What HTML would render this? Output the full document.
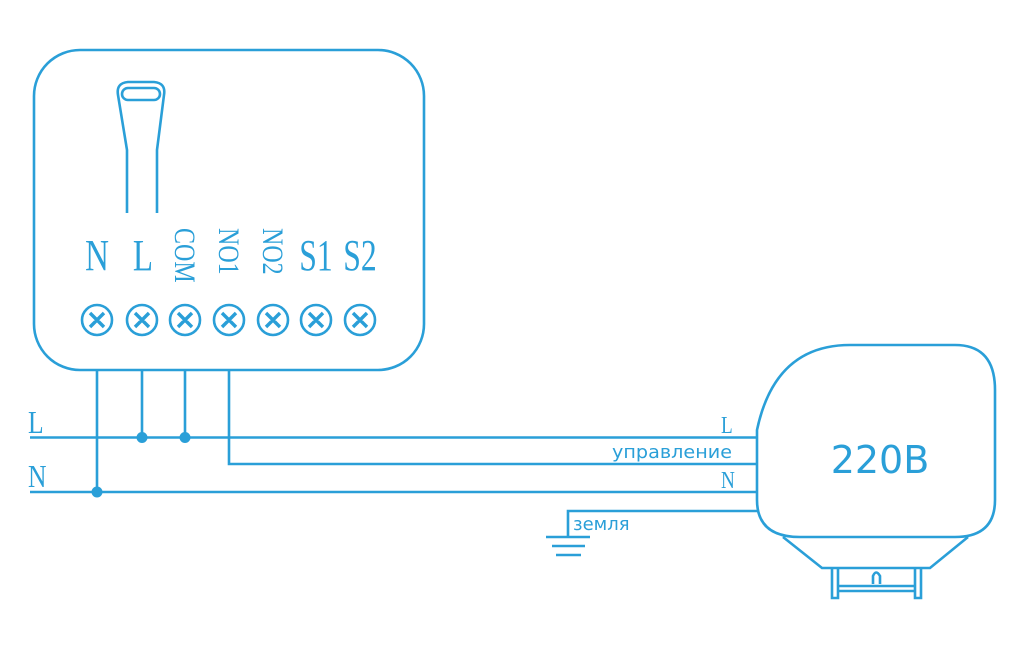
<!DOCTYPE html>
<html><head><meta charset="utf-8"><style>
html,body{margin:0;padding:0;background:#fff;}
svg{display:block;}
</style></head><body>
<svg width="1024" height="649" viewBox="0 0 1024 649" xmlns="http://www.w3.org/2000/svg">
<g fill="none" stroke="#2a9fd8" stroke-width="2.6">
<rect x="34" y="50" width="390" height="320" rx="46"/>
<path d="M127 213 V150 L118 95 Q116 83 128 82 H154 Q166 83 164 95 L157 150 V213"/>
<rect x="122" y="88" width="38" height="12" rx="6"/>
<g stroke-width="2.6">
<circle cx="97" cy="320" r="15"/><circle cx="142" cy="320" r="15"/><circle cx="185" cy="320" r="15"/><circle cx="229" cy="320" r="15"/><circle cx="273" cy="320" r="15"/><circle cx="316" cy="320" r="15"/><circle cx="360" cy="320" r="15"/>
<path stroke-width="3.4" d="M90 313l14 14M104 313l-14 14M135 313l14 14M149 313l-14 14M178 313l14 14M192 313l-14 14M222 313l14 14M236 313l-14 14M266 313l14 14M280 313l-14 14M309 313l14 14M323 313l-14 14M353 313l14 14M367 313l-14 14"/>
</g>
<path d="M97 370V492M142 370V437M185 370V437M229 370V464H758M30 437.5H758M30 492H758M568 537V511H758M546 537H590M552 546H585M556 555H581"/>
<path d="M757 430 Q775 345 850 345 H955 Q995 345 995 390 V500 Q995 537 955 537 H800 Q757 537 757 500 Z"/>
<path d="M783 537 L822 568 H930 L968 537"/>
<path d="M832 568V598H838V568M915 568V598H921V568M838 586H915M838 591H915M873 584V576Q876 569 880 576V584"/>
</g>
<circle cx="97" cy="492" r="5.5" fill="#2a9fd8"/>
<circle cx="142" cy="437.5" r="5.5" fill="#2a9fd8"/>
<circle cx="185" cy="437.5" r="5.5" fill="#2a9fd8"/>
<g fill="#2a9fd8" font-family="Liberation Serif, serif">
<text font-size="44" text-anchor="middle" transform="translate(97 270) scale(0.75 1)">N</text>
<text font-size="44" text-anchor="middle" transform="translate(143 270) scale(0.75 1)">L</text>
<text font-size="44" text-anchor="middle" transform="translate(316 270) scale(0.72 1)">S1</text>
<text font-size="44" text-anchor="middle" transform="translate(360 270) scale(0.72 1)">S2</text>
<text font-size="30" transform="translate(175 228) rotate(90) scale(0.8 1)">COM</text>
<text font-size="30" transform="translate(219 228) rotate(90) scale(0.8 1)">NO1</text>
<text font-size="30" transform="translate(263 228) rotate(90) scale(0.8 1)">NO2</text>
<text font-size="32" transform="translate(28 433) scale(0.8 1)">L</text>
<text font-size="32" transform="translate(28 487) scale(0.8 1)">N</text>
<text font-size="24" transform="translate(721 433) scale(0.8 1)">L</text>
<text font-size="24" transform="translate(721 488) scale(0.8 1)">N</text>
</g>
<g fill="#2a9fd8" font-family="DejaVu Sans, Liberation Sans, sans-serif">
<text x="612" y="458" font-size="18" textLength="120" lengthAdjust="spacingAndGlyphs">управление</text>
<text x="573" y="530" font-size="18">земля</text>
<text x="880" y="473" font-size="38" text-anchor="middle">220В</text>
</g>
</svg>
</body></html>
